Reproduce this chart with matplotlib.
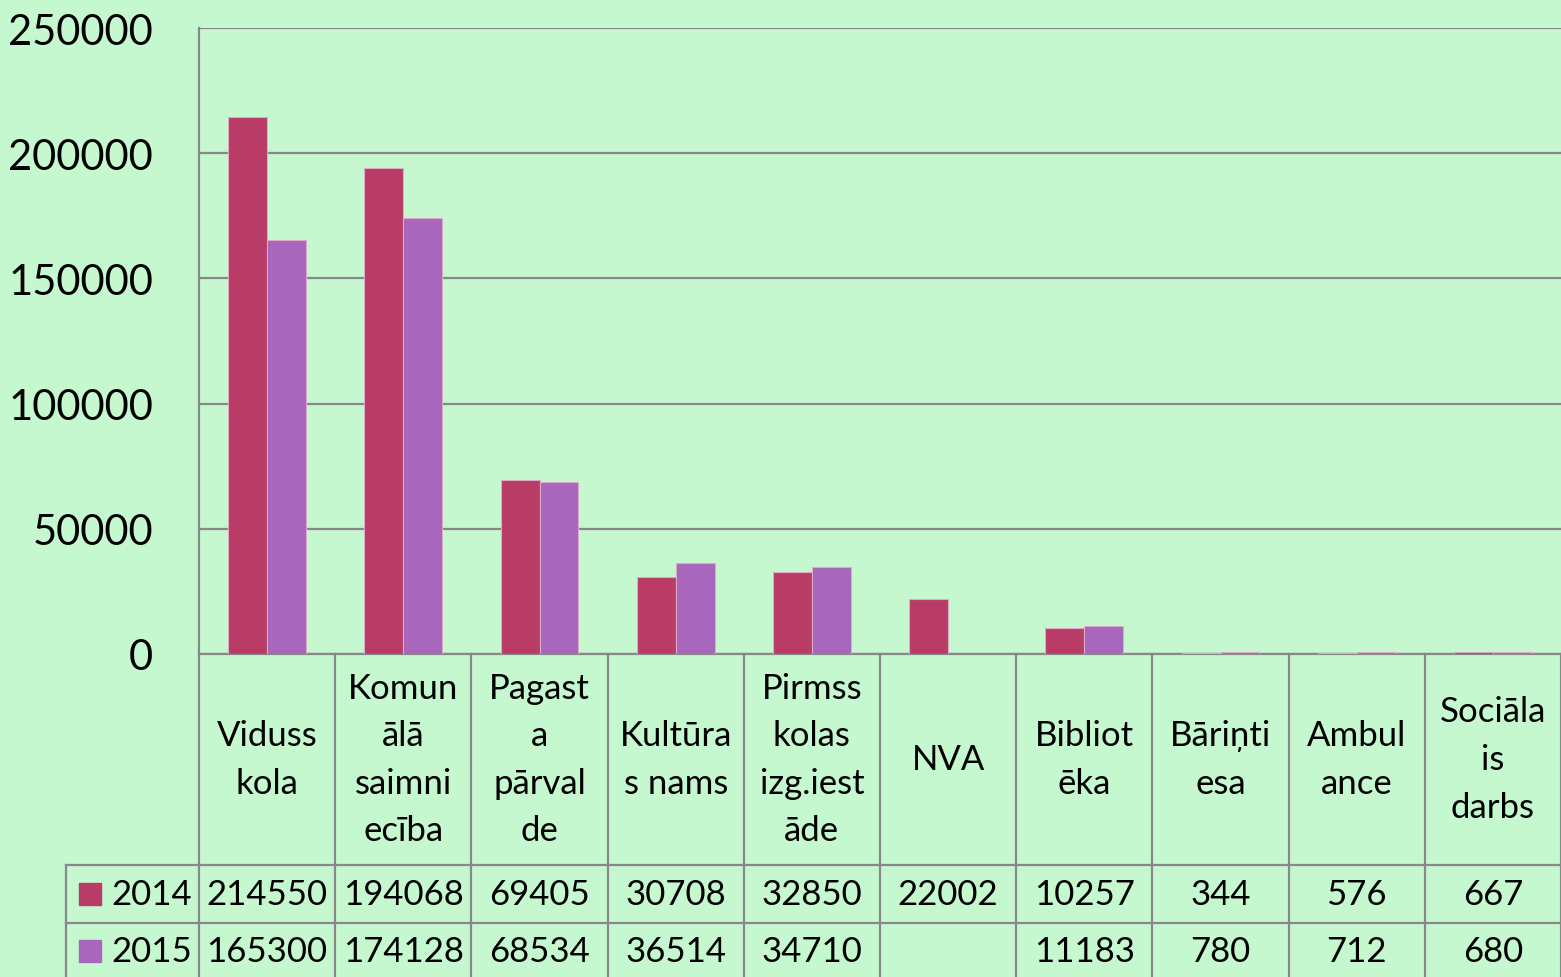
import numpy as np
import matplotlib
matplotlib.use('Agg')
import matplotlib.pyplot as plt
import matplotlib.transforms as mtransforms

# data
categories = ['Viduss\nkola', 'Komun\nālā\nsaimni\necība', 'Pagast\na\npārval\nde',
              'Kultūra\ns nams', 'Pirmss\nkolas\nizg.iest\nāde', 'NVA',
              'Bibliot\nēka', 'Bāriņti\nesa', 'Ambul\nance', 'Sociāla\nis\ndarbs']
years = ['2014', '2015']
vals_2014 = [214550, 194068, 69405, 30708, 32850, 22002, 10257, 344, 576, 667]
vals_2015 = [165300, 174128, 68534, 36514, 34710, None, 11183, 780, 712, 680]
yticks = [0, 50000, 100000, 150000, 200000, 250000]

bg = '#c6f8d0'
colors = ['#b93c66', '#a966bd']
grid_c = '#888888'

plt.rcParams['font.family'] = ['Lato', 'DejaVu Sans']

W, H = 1561, 978
fig = plt.figure(figsize=(W / 100, H / 100), dpi=100, facecolor=bg)
ax = fig.add_axes([199 / W, (H - 655) / H, (W - 199) / W, 626 / H])
ax.set_facecolor(bg)

x = np.arange(len(categories))
bw = 0.285
series = [vals_2014, vals_2015]
for k, vals in enumerate(series):
    v = np.array([np.nan if a is None else a for a in vals], dtype=float)
    ax.bar(x + (k - 0.5) * bw, v, width=bw, color=colors[k],
           edgecolor='#dcaac6', linewidth=0.8, zorder=3)

ax.set_xlim(-0.5, len(categories) - 0.5)
ax.set_ylim(0, 250000)
ax.set_yticks(yticks)
ax.set_yticklabels([str(t) for t in yticks], fontsize=30)
ax.tick_params(axis='y', length=0, pad=33)
ax.set_xticks([])
ax.yaxis.grid(True, color=grid_c, linewidth=1.6, zorder=0)
ax.set_axisbelow(True)
for s in ['top', 'right']:
    ax.spines[s].set_visible(False)
for s in ['left', 'bottom']:
    ax.spines[s].set_color(grid_c)
    ax.spines[s].set_linewidth(1.6)

# data table under the axis
tr = mtransforms.blended_transform_factory(ax.transData, ax.transAxes)
def fy(py):
    return (655 - py) / 626

x_left = -0.5 + (66 - 199) / 136.2
y_head = fy(866)
y_r1 = fy(924)
y_end = fy(990)
lw = 1.6
line_kw = dict(color=grid_c, linewidth=lw, transform=tr, clip_on=False, zorder=4)

for i in range(len(categories) + 1):
    ax.plot([i - 0.5, i - 0.5], [0, y_end], **line_kw)
ax.plot([x_left, x_left], [y_head, y_end], **line_kw)
ax.plot([x_left, len(categories) - 0.5], [y_head, y_head], **line_kw)
ax.plot([x_left, len(categories) - 0.5], [y_r1, y_r1], **line_kw)

fs = 25
for i, c in enumerate(categories):
    ax.text(i, fy(760), c, ha='center', va='center', fontsize=fs,
            linespacing=1.6, transform=tr, clip_on=False)

row_y = [fy(895), fy(952)]
for k, vals in enumerate(series):
    ax.plot([-0.5 + (89.5 - 199) / 136.2], [row_y[k]], marker='s',
            markersize=16.5, color=colors[k], linestyle='none',
            transform=tr, clip_on=False)
    ax.text(-0.5 + (111 - 199) / 136.2, row_y[k], years[k], ha='left',
            va='center', fontsize=fs, transform=tr, clip_on=False)
    for i, v in enumerate(vals):
        if v is None:
            continue
        ax.text(i, row_y[k], str(v), ha='center', va='center', fontsize=fs,
                transform=tr, clip_on=False)

fig.savefig('out.png', dpi=100, facecolor=bg)
